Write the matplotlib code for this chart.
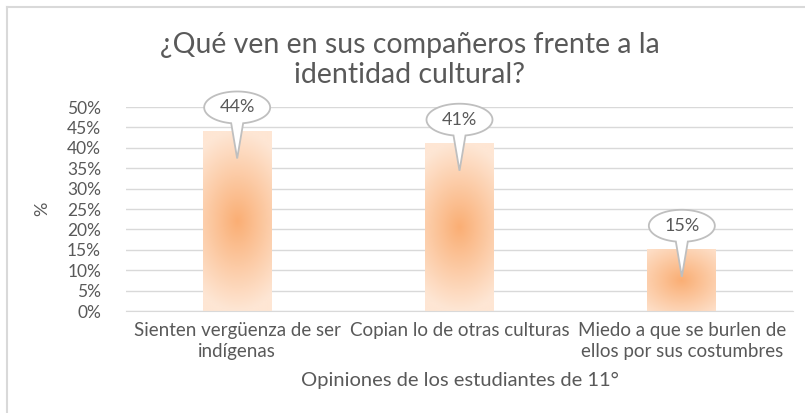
import numpy as np
import matplotlib
matplotlib.use("Agg")
import matplotlib.pyplot as plt
from matplotlib.path import Path
from matplotlib.patches import PathPatch
from matplotlib.colors import to_rgb
import matplotlib.transforms as mtransforms
from matplotlib.lines import Line2D

categories = ["Sienten vergüenza de ser\nindígenas",
              "Copian lo de otras culturas",
              "Miedo a que se burlen de\nellos por sus costumbres"]
values = [0.44, 0.41, 0.15]
labels = ["44%", "41%", "15%"]
yticks = np.arange(0, 0.51, 0.05)

title = "¿Qué ven en sus compañeros frente a la\nidentidad cultural?"
xlabel = "Opiniones de los estudiantes de 11°"
ylabel = "%"

text_col = "#595959"
grid_col = "#D9D9D9"
c_center = np.array(to_rgb("#FAAE74"))
c_edge = np.array(to_rgb("#FEE6D4"))

plt.rcParams['font.family'] = ['Lato', 'DejaVu Sans']

fig = plt.figure(figsize=(8.05, 4.13), dpi=100)
ax = fig.add_axes([126 / 805, 1 - 311 / 413, (793 - 126) / 805, 204 / 413])

x = np.arange(len(categories))
bars = ax.bar(x, values, width=0.31, color="none", zorder=2)

# radial gradient fill per bar
ny, nx = 120, 60
yy, xx = np.mgrid[-1:1:ny * 1j, -1:1:nx * 1j]
for b in bars:
    x0, w, h = b.get_x(), b.get_width(), b.get_height()
    hp = h / 0.5 * 204  # bar height in px
    wp = 70
    dx = xx * wp / 2
    dy = yy * hp / 2
    r = np.sqrt((dx / 60) ** 2 + (dy / max(hp / 2, 45)) ** 2)
    t = np.clip(r, 0, 1)
    img = c_center[None, None, :] * (1 - t[..., None]) + c_edge[None, None, :] * t[..., None]
    ax.imshow(img, extent=(x0, x0 + w, 0, h), aspect='auto', origin='lower',
              interpolation='bilinear', zorder=2)

ax.set_xlim(-0.5, len(categories) - 0.5)
ax.set_ylim(0, 0.5)
ax.set_yticks(yticks)
ax.set_yticklabels([f"{v * 100:.0f}%" for v in yticks])
ax.set_xticks(x)
ax.set_xticklabels(categories, linespacing=1.3)
ax.tick_params(length=0, colors=text_col)
ax.tick_params(axis='y', pad=18, labelsize=12.5)
ax.tick_params(axis='x', pad=8, labelsize=13.5)
ax.grid(axis='y', color=grid_col, lw=1, zorder=0)
ax.set_axisbelow(True)
for s in ["top", "right", "left"]:
    ax.spines[s].set_visible(False)
ax.spines["bottom"].set_color(grid_col)

ax.set_xlabel(xlabel, color=text_col, fontsize=14.5, labelpad=8)
ax.set_ylabel(ylabel, color=text_col, fontsize=13, labelpad=12)

# speech bubble callouts
a, bh = 0.33, 0.16       # ellipse semi-axes (inches)
cy, tip = 0.24, -0.27    # ellipse center and tail tip, relative to bar top
half = 0.06
th0 = np.arcsin(half / a)
ang = np.linspace(-np.pi / 2 + th0, 3 * np.pi / 2 - th0, 120)
verts = [(a * np.cos(t_), cy + bh * np.sin(t_)) for t_ in ang]
verts += [(0, tip), verts[0]]
codes = [Path.MOVETO] + [Path.LINETO] * (len(verts) - 2) + [Path.CLOSEPOLY]
bubble = Path(verts, codes)
for xi, v, lab in zip(x, values, labels):
    tr = fig.dpi_scale_trans + mtransforms.ScaledTranslation(xi, v, ax.transData)
    ax.add_patch(PathPatch(bubble, transform=tr, facecolor="white",
                           edgecolor="#BFBFBF", lw=1.3, zorder=4, clip_on=False))
    ax.text(0, cy, lab, transform=tr, ha="center", va="center",
            color=text_col, fontsize=13, zorder=5)

fig.text(410 / 805, 1 - 60 / 413, title, ha="center", va="center",
         color=text_col, fontsize=20.5, linespacing=1.15)

# chart frame (top and left edges visible in the crop)
fig.add_artist(Line2D([7 / 805, 1], [1 - 7 / 413] * 2, color="#D9D9D9", lw=1.5,
                      transform=fig.transFigure))
fig.add_artist(Line2D([7 / 805] * 2, [0, 1 - 7 / 413], color="#D9D9D9", lw=1.5,
                      transform=fig.transFigure))

fig.savefig("out.png", dpi=100)
